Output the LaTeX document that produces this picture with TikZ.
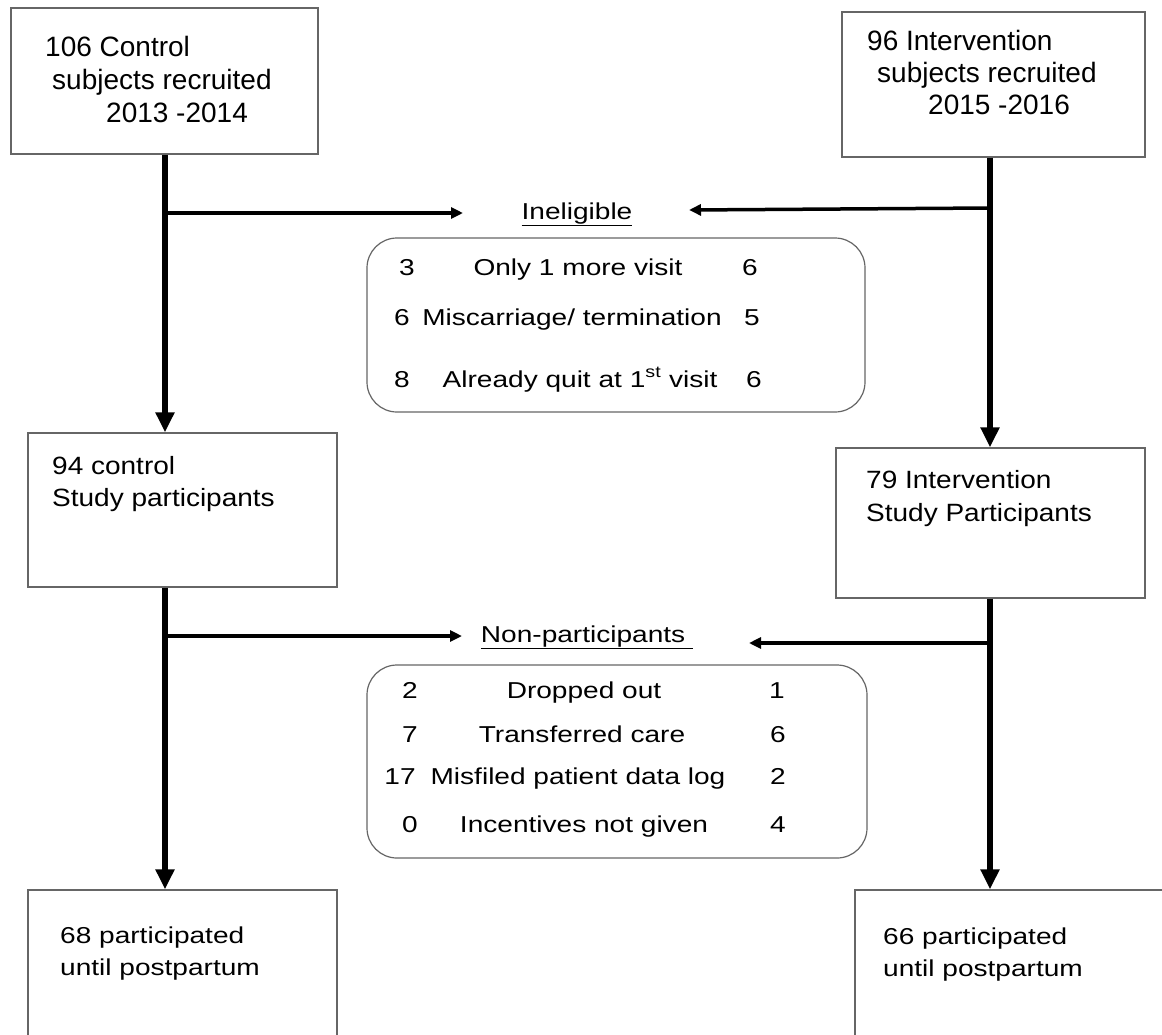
\documentclass[tikz,border=0pt]{standalone}
\usepackage{fontspec}
\setmainfont{Liberation Sans}
\newfontfamily\fA{Liberation Sans}
\newfontfamily\fB[FakeStretch=1.12]{Liberation Sans}
\newfontfamily\fC[FakeStretch=1.22]{Liberation Sans}
\usetikzlibrary{arrows.meta}
\tikzset{
  box/.style={draw=black!60, line width=1.2pt, rectangle, inner sep=0pt},
  rbox/.style={draw=black!60, line width=1.2pt, rectangle, rounded corners=30pt, inner sep=0pt},
  ta/.style={font=\fA\fontsize{28}{34}\selectfont, anchor=base west, inner sep=0pt},
  tb/.style={font=\fB\fontsize{25}{30}\selectfont, anchor=base west, inner sep=0pt},
  tc/.style={font=\fC\fontsize{23}{28}\selectfont, anchor=base, inner sep=0pt},
  td/.style={font=\fC\fontsize{23}{28}\selectfont, anchor=base west, inner sep=0pt},
  mainarrow/.style={line width=6pt, -{Triangle[length=20pt,width=18pt]}},
  sidearrow/.style={line width=3.5pt, -{Triangle[length=12pt,width=11pt]}},
}
\begin{document}
\begin{tikzpicture}[x=1pt,y=-1pt]
\useasboundingbox (0,0) rectangle (1162,1034);
\clip (0,0) rectangle (1162,1034);
\fill[white] (0,0) rectangle (1162,1034);

% boxes
\node[box, minimum width=307pt, minimum height=146pt] (b1) at (164.5,81) {};
\node[box, minimum width=303pt, minimum height=145pt] (b2) at (993.5,84.5) {};
\node[box, minimum width=309pt, minimum height=154pt] (b3) at (182.5,510) {};
\node[box, minimum width=309pt, minimum height=150pt] (b4) at (990.5,523) {};
\node[box, minimum width=309pt, minimum height=170pt] (b5) at (182.5,975) {};
\node[box, minimum width=330pt, minimum height=170pt] (b6) at (1020,975) {};
\node[rbox, minimum width=498pt, minimum height=174pt] (ib) at (616,325) {};
\node[rbox, minimum width=500pt, minimum height=193pt] (nb) at (617,761.5) {};

% box texts
\node[ta] (t1a) at (45,56) {106 Control};
\node[ta] (t1b) at (52,89) {subjects recruited};
\node[ta] (t1c) at (106,122) {2013 -2014};
\node[ta] (t2a) at (867,50) {96 Intervention};
\node[ta] (t2b) at (877,82) {subjects recruited};
\node[ta] (t2c) at (928,114) {2015 -2016};
\node[tb] (t3a) at (52,474) {94 control};
\node[tb] (t3b) at (52,506) {Study participants};
\node[tb] (t4a) at (866,488) {79 Intervention};
\node[tb] (t4b) at (866,521) {Study Participants};
\node[td] (t5a) at (60,943) {68 participated};
\node[td] (t5b) at (60,975) {until postpartum};
\node[td] (t6a) at (883,944) {66 participated};
\node[td] (t6b) at (883,976) {until postpartum};

% headings
\node[tc] (inel) at (577,219) {\underline{Ineligible}};
\node[tc] (nonp) at (587,642) {\underline{Non-participants~}};

% ineligible rows
\node[tc] (i1l) at (407,275) {3};
\node[tc] (i1m) at (578,275) {Only 1 more visit};
\node[tc] (i1r) at (750,275) {6};
\node[tc] (i2l) at (402,325) {6};
\node[tc] (i2m) at (572,325) {Miscarriage/ termination};
\node[tc] (i2r) at (752,325) {5};
\node[tc] (i3l) at (402,387) {8};
\node[tc] (i3m) at (580,387) {Already quit at 1\textsuperscript{st} visit};
\node[tc] (i3r) at (754,387) {6};

% non-participant rows
\node[tc] (n1l) at (410,698) {2};
\node[tc] (n1m) at (584,698) {Dropped out};
\node[tc] (n1r) at (777,698) {1};
\node[tc] (n2l) at (410,742) {7};
\node[tc] (n2m) at (582,742) {Transferred care};
\node[tc] (n2r) at (778,742) {6};
\node[tc] (n3l) at (400,784) {17};
\node[tc] (n3m) at (578,784) {Misfiled patient data log};
\node[tc] (n3r) at (778,784) {2};
\node[tc] (n4l) at (410,832) {0};
\node[tc] (n4m) at (584,832) {Incentives not given};
\node[tc] (n4r) at (778,832) {4};

% junction coordinates
\coordinate (j1) at (165,213);
\coordinate (j2) at (990,208);
\coordinate (j3) at (165,636);
\coordinate (j4) at (990,643);
\coordinate (e1) at (463,213);
\coordinate (e2) at (689,210);
\coordinate (e3) at (462,636);
\coordinate (e4) at (749,643);

% main flow arrows
\draw[mainarrow] (b1.south -| j1) -- (b3.north -| j1);
\draw[mainarrow] (b2.south -| j2) -- (b4.north -| j2);
\draw[mainarrow] (b3.south -| j3) -- (b5.north -| j3);
\draw[mainarrow] (b4.south -| j4) -- (b6.north -| j4);

% side arrows
\draw[sidearrow] (j1) -- (e1);
\draw[sidearrow] (j2) -- (e2);
\draw[sidearrow] (j3) -- (e3);
\draw[sidearrow] (j4) -- (e4);
\end{tikzpicture}
\end{document}
